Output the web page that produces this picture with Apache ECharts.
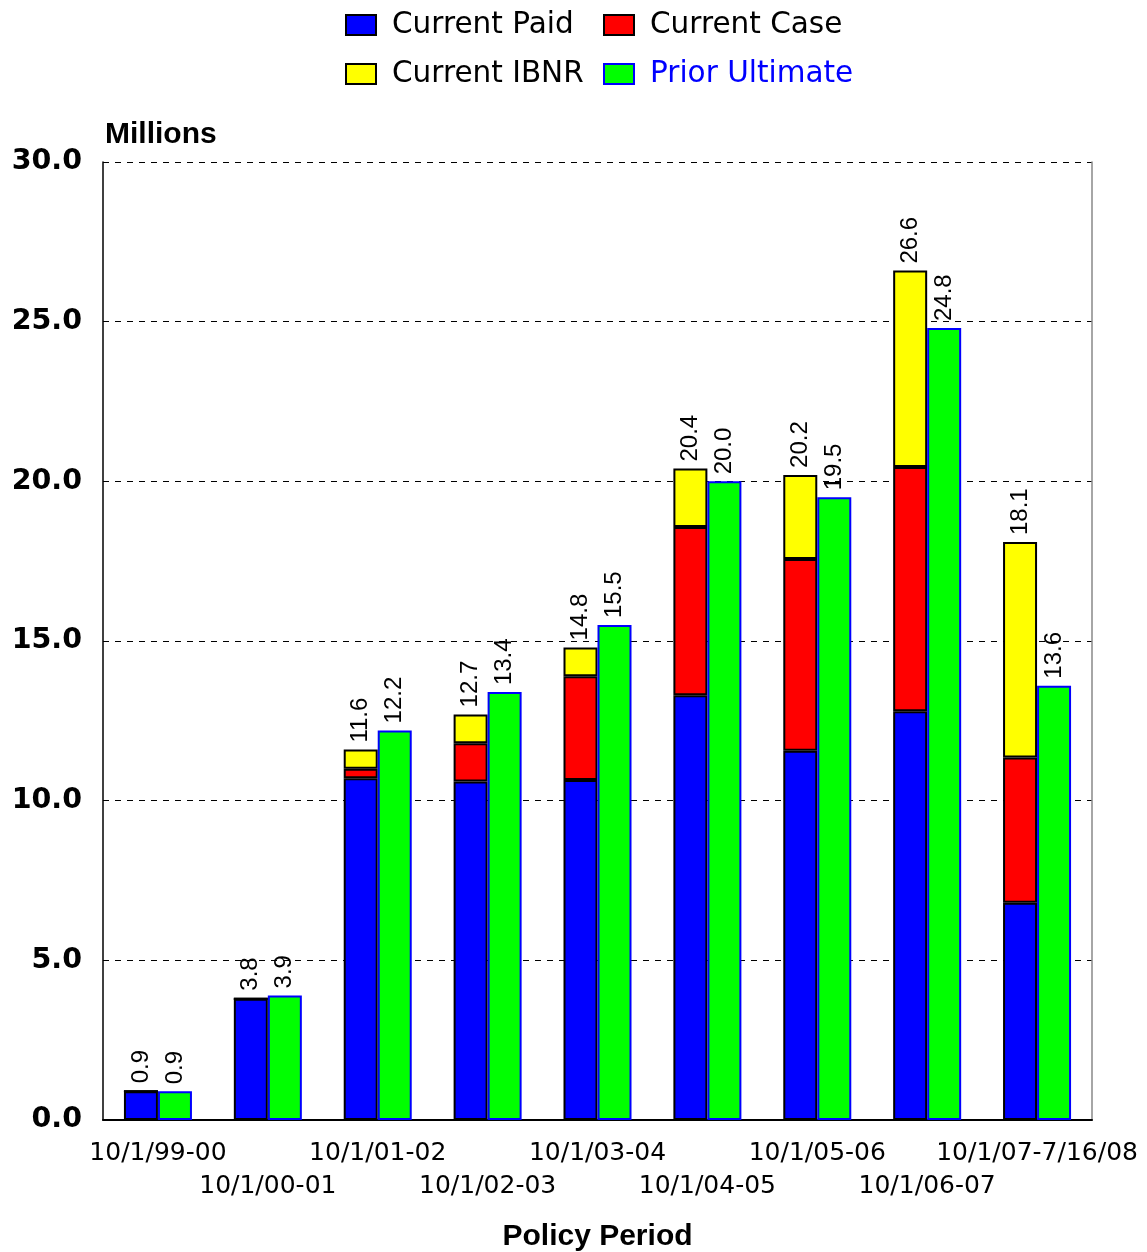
<!DOCTYPE html>
<html>
<head>
<meta charset="utf-8">
<title>Policy Period Losses</title>
<script src="https://cdn.jsdelivr.net/npm/echarts@6/dist/echarts.min.js"></script>
<style>
  html, body { margin: 0; padding: 0; background: #fff; }
  #chart { width: 1147px; height: 1252px; }
</style>
</head>
<body>
<div id="chart"></div>
<script>
// Policy periods on the category axis
const categories = ['10/1/99-00', '10/1/00-01', '10/1/01-02', '10/1/02-03', '10/1/03-04',
                    '10/1/04-05', '10/1/05-06', '10/1/06-07', '10/1/07-7/16/08'];

// Current evaluation, in millions (stacked)
const currentPaid = [0.9, 3.8, 10.7, 10.6, 10.65, 13.3, 11.56, 12.8, 6.8];
const currentCase = [0, 0, 0.3, 1.2, 3.25, 5.27, 6.01, 7.65, 4.55];
const currentIBNR = [0, 0, 0.6, 0.9, 0.9, 1.83, 2.63, 6.15, 6.75];

// Prior evaluation ultimate, in millions
const priorUltimate = [0.9, 3.9, 12.2, 13.4, 15.5, 20.0, 19.5, 24.8, 13.6];

// Value axis ticks
const yTicks = [0, 5, 10, 15, 20, 25, 30];

const chart = echarts.init(document.getElementById('chart'), null, { renderer: 'canvas' });

const SANS = 'DejaVu Sans';
const ARIAL = 'Liberation Sans';

const barW = 34;
const topLabel = {
  show: true,
  position: 'top',
  rotate: 90,
  align: 'left',
  verticalAlign: 'middle',
  distance: 7,
  color: '#000',
  fontFamily: ARIAL,
  fontSize: 24
};

function legendBox(name, left, top, fill, border, textColor) {
  return {
    data: [name],
    left: left,
    top: top,
    padding: 0,
    itemWidth: 30,
    itemHeight: 20,
    icon: 'rect',
    selectedMode: false,
    itemStyle: { color: fill, borderColor: border, borderWidth: 2 },
    textStyle: {
      color: textColor,
      fontFamily: SANS,
      fontSize: 29.5,
      padding: [0, 0, 0, 11]
    }
  };
}

const option = {
  animation: false,
  backgroundColor: '#fff',
  legend: [
    legendBox('Current Paid', 345, 10, '#0000ff', '#000', '#000'),
    legendBox('Current Case', 603, 10, '#ff0000', '#000', '#000'),
    legendBox('Current IBNR', 345, 59, '#ffff00', '#000', '#000'),
    legendBox('Prior Ultimate', 603, 59, '#00ff00', '#0000ff', '#0000ff')
  ],
  grid: {
    left: 103, right: 55, top: 162, bottom: 132,
    containLabel: false,
    outerBoundsMode: 'none'
  },
  xAxis: {
    type: 'category',
    data: categories,
    name: 'Policy Period',
    nameLocation: 'middle',
    nameGap: 102,
    nameTextStyle: { fontFamily: ARIAL, fontWeight: 'bold', fontSize: 30, color: '#000' },
    axisLine: { lineStyle: { color: '#000', width: 2 } },
    axisTick: { show: false },
    axisLabel: {
      interval: 0,
      margin: 17,
      fontFamily: SANS,
      fontSize: 25,
      lineHeight: 33,
      color: '#000',
      formatter: (v, i) => (i % 2 === 1 ? '\n' + v : v)
    }
  },
  yAxis: [
    {
      type: 'value',
      min: 0,
      max: 30,
      interval: 5,
      name: 'Millions',
      nameLocation: 'end',
      nameGap: 12,
      nameTextStyle: {
        fontFamily: ARIAL, fontWeight: 'bold', fontSize: 30, color: '#000',
        align: 'left', verticalAlign: 'bottom', padding: [0, 0, 0, 2]
      },
      axisLine: { show: true, lineStyle: { color: '#000', width: 1.5 } },
      axisTick: { show: false },
      axisLabel: {
        margin: 21,
        fontFamily: SANS,
        fontWeight: 'bold',
        fontSize: 28.5,
        color: '#000',
        formatter: v => (yTicks.indexOf(v) >= 0 ? v.toFixed(1) : '')
      },
      splitLine: { show: true, lineStyle: { color: '#000', type: [6, 6], width: 1 } }
    },
    {
      type: 'value',
      position: 'right',
      min: 0,
      max: 30,
      interval: 5,
      axisLine: { show: true, lineStyle: { color: '#888', width: 1.5 } },
      axisTick: { show: false },
      axisLabel: { show: false },
      splitLine: { show: false }
    }
  ],
  series: [
    {
      name: 'Current Paid',
      type: 'bar',
      stack: 'current',
      barWidth: barW,
      barGap: '0%',
      data: currentPaid,
      itemStyle: { color: '#0000ff', borderColor: '#000', borderWidth: 2 }
    },
    {
      name: 'Current Case',
      type: 'bar',
      stack: 'current',
      barWidth: barW,
      data: currentCase,
      itemStyle: { color: '#ff0000', borderColor: '#000', borderWidth: 2 }
    },
    {
      name: 'Current IBNR',
      type: 'bar',
      stack: 'current',
      barWidth: barW,
      data: currentIBNR,
      itemStyle: { color: '#ffff00', borderColor: '#000', borderWidth: 2 },
      label: Object.assign({}, topLabel, {
        formatter: p => {
          const i = p.dataIndex;
          return (currentPaid[i] + currentCase[i] + currentIBNR[i]).toFixed(1);
        }
      })
    },
    {
      name: 'Prior Ultimate',
      type: 'bar',
      stack: 'prior',
      barWidth: barW,
      barGap: '0%',
      data: priorUltimate,
      itemStyle: { color: '#00ff00', borderColor: '#0000ff', borderWidth: 2 },
      label: Object.assign({}, topLabel, {
        formatter: p => p.value.toFixed(1)
      })
    }
  ]
};

chart.setOption(option);
</script>
</body>
</html>
